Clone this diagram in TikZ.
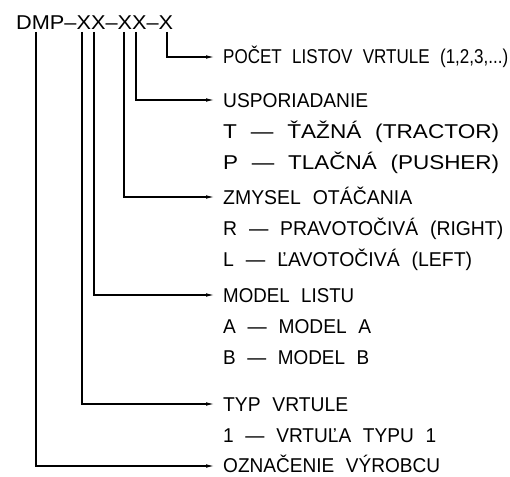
\documentclass[tikz,border=0pt]{standalone}
\usepackage{fontspec}
\usepackage{graphicx}
\setmainfont{Liberation Sans}[WordSpace=2.2]
\usetikzlibrary{arrows.meta}
\newcommand{\fitw}[2]{\resizebox{#1pt}{\height}{#2}}
\begin{document}
\begin{tikzpicture}[x=1pt,y=-1pt,
  conn/.style={line width=1.3pt, -{Latex[length=9pt,width=3.6pt]}},
  lbl/.style={inner sep=0pt, anchor=base west, font=\fontsize{20}{24}\selectfont}]
\useasboundingbox (0,0) rectangle (510,476);
% code label
\node[lbl] (code) at (16,30) {\fitw{157}{DMP–XX–XX–X}};
% line start points under the code characters
\coordinate (sM) at (36,32);
\coordinate (sX1) at (82,32);
\coordinate (sX2) at (94,32);
\coordinate (sX3) at (124,32);
\coordinate (sX4) at (136,32);
\coordinate (sX5) at (167,32);
% arrow tips
\coordinate (tA) at (215,57);
\coordinate (tB) at (215,100);
\coordinate (tC) at (215,197);
\coordinate (tD) at (215,295);
\coordinate (tE) at (215,404);
\coordinate (tF) at (215,466);
% texts
\node[lbl] (pocet) at (223,64) {\fitw{285}{POČET LISTOV VRTULE (1,2,3,...)}};
\node[lbl] (uspo) at (223,107) {\fitw{145}{USPORIADANIE}};
\node[lbl] (uspoT) at (223,138) {\fitw{276}{T — ŤAŽNÁ (TRACTOR)}};
\node[lbl] (uspoP) at (223,169) {\fitw{276}{P — TLAČNÁ (PUSHER)}};
\node[lbl] (zmys) at (223,204) {\fitw{189}{ZMYSEL OTÁČANIA}};
\node[lbl] (zmysR) at (223,235) {\fitw{280}{R — PRAVOTOČIVÁ (RIGHT)}};
\node[lbl] (zmysL) at (223,266) {\fitw{249}{L — ĽAVOTOČIVÁ (LEFT)}};
\node[lbl] (model) at (223,302) {\fitw{131}{MODEL LISTU}};
\node[lbl] (modelA) at (223,333) {\fitw{148}{A — MODEL A}};
\node[lbl] (modelB) at (223,364) {\fitw{146}{B — MODEL B}};
\node[lbl] (typ) at (223,411) {\fitw{125}{TYP VRTULE}};
\node[lbl] (typ1) at (223,442) {\fitw{213}{1 — VRTUĽA TYPU 1}};
\node[lbl] (ozn) at (223,472.5) {\fitw{217}{OZNAČENIE VÝROBCU}};
% connectors
\draw[conn] (sX5) |- (tA);
\draw[conn] (sX4) |- (tB);
\draw[conn] (sX3) |- (tC);
\draw[conn] (sX2) |- (tD);
\draw[conn] (sX1) |- (tE);
\draw[conn] (sM) |- (tF);
\end{tikzpicture}
\end{document}
